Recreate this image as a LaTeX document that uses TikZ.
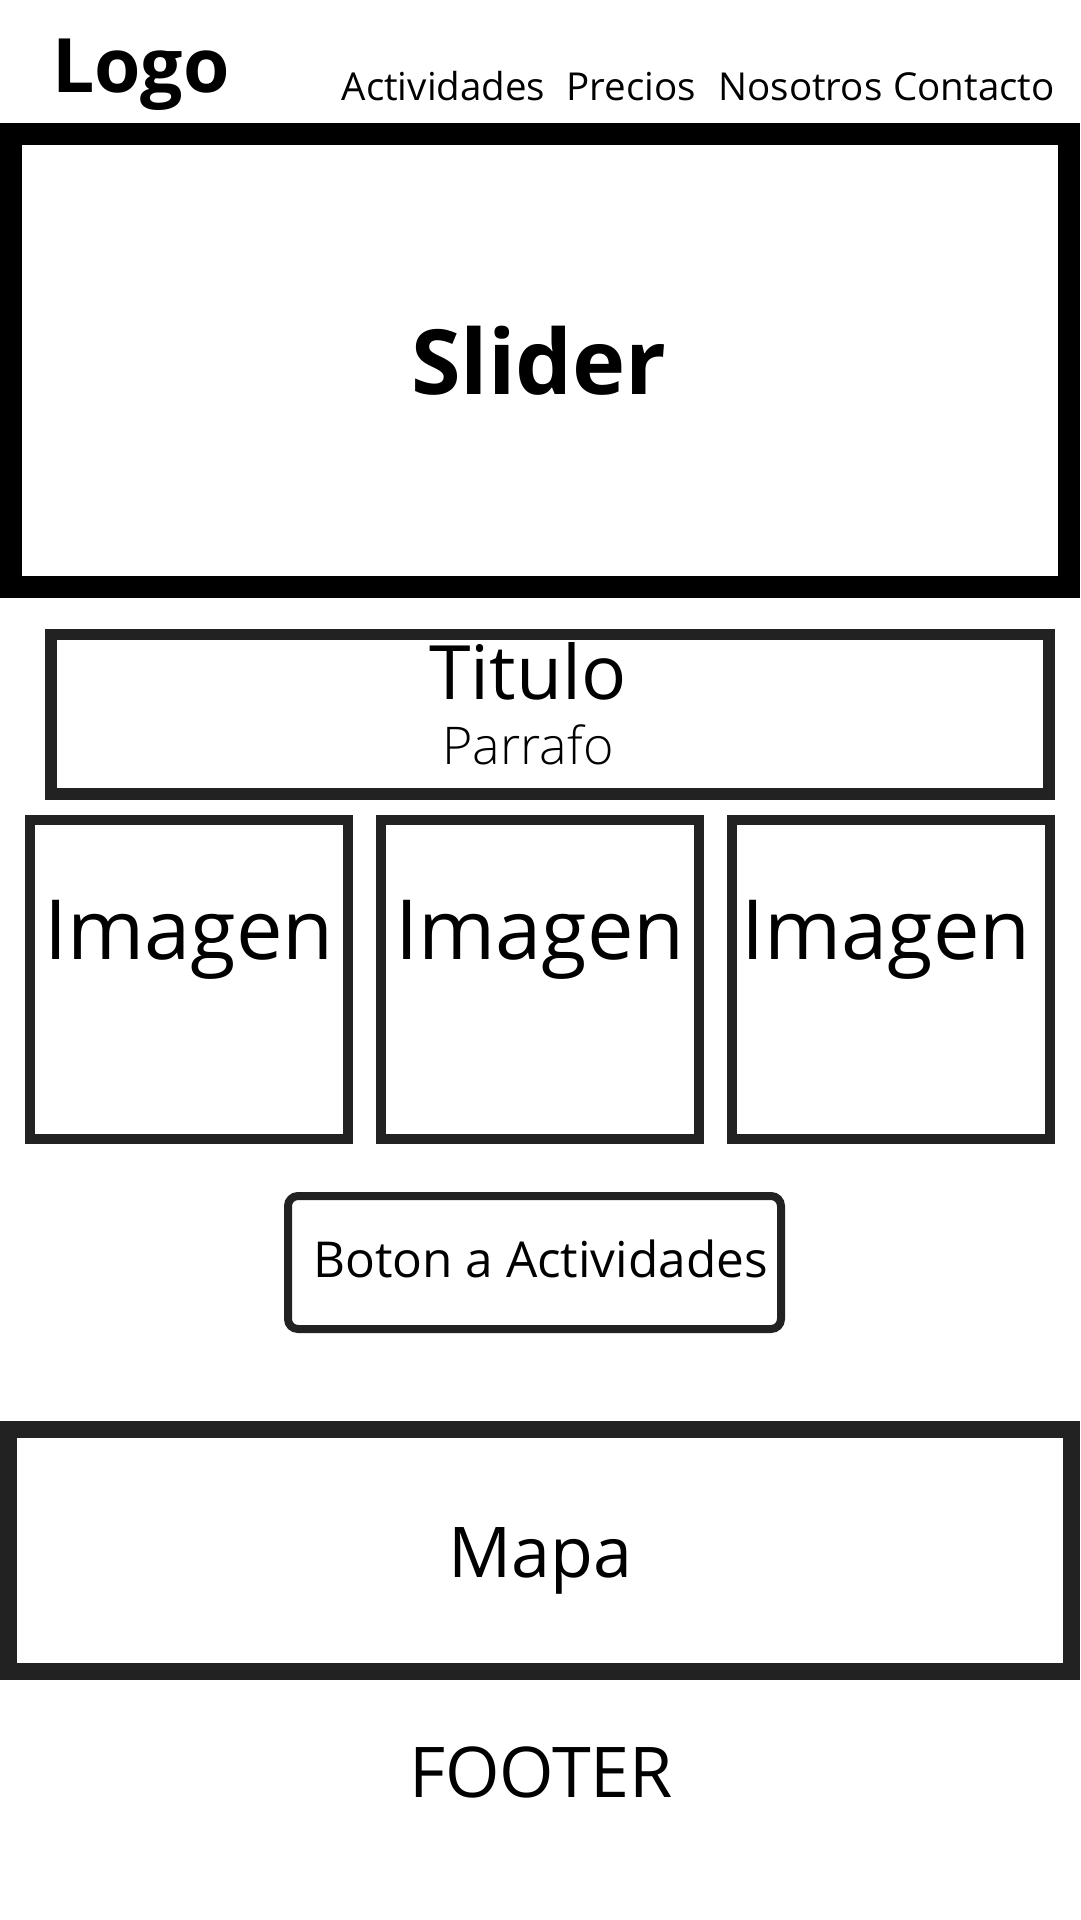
\documentclass[tikz,border=0pt]{standalone}
\usepackage{fontspec}
\setmainfont{Open Sans}
\newfontfamily\lightfont{Open Sans Light}
\definecolor{wire}{HTML}{222222}
\begin{document}
\begin{tikzpicture}[x=1pt,y=-1pt]
\tikzstyle{every node}+=[inner sep=0pt,anchor=base]
\useasboundingbox (0,0) rectangle (1080,1920);
\node (logo) at (141,92) {\fontsize{75}{75}\selectfont\bfseries Logo};
\node (actividades) at (443.5,100) {\fontsize{38.5}{38.5}\selectfont Actividades};
\node (precios) at (631.5,100) {\fontsize{38.5}{38.5}\selectfont Precios};
\node (nosotros) at (800.5,100) {\fontsize{38.5}{38.5}\selectfont Nosotros};
\node (contacto) at (974,100) {\fontsize{38.5}{38.5}\selectfont Contacto};
\draw [black,line width=22pt] (11,133.5) rectangle (1069,586.5);
\node (slider) at (539,394) {\fontsize{90}{90}\selectfont\bfseries Slider};
\draw [wire,line width=11.5pt] (51,634.5) rectangle (1049,794);
\node (titulo) at (528,699) {\fontsize{75}{75}\selectfont Titulo};
\node (parrafo) at (528,764) {\fontsize{52}{52}\lightfont Parrafo};
\draw [wire,line width=10pt] (30,820) rectangle (348,1139);
\node (imagena) at (189,959) {\fontsize{83}{83}\selectfont Imagen};
\draw [wire,line width=10pt] (381,820) rectangle (699,1139);
\node (imagenb) at (540,959) {\fontsize{83}{83}\selectfont Imagen};
\draw [wire,line width=10pt] (732,820) rectangle (1050,1139);
\node (imagenc) at (886,959) {\fontsize{83}{83}\selectfont Imagen};
\draw [wire,line width=8pt,rounded corners=10pt] (288,1196) rectangle (781,1329);
\node (boton) at (540.5,1277) {\fontsize{49.5}{49.5}\selectfont Boton a Actividades};
\draw [wire,line width=17pt] (8.5,1429) rectangle (1071.5,1671.5);
\node (mapa) at (540,1577) {\fontsize{70}{70}\selectfont Mapa};
\node (footer) at (541,1797) {\fontsize{70}{70}\selectfont FOOTER};
\end{tikzpicture}
\end{document}
